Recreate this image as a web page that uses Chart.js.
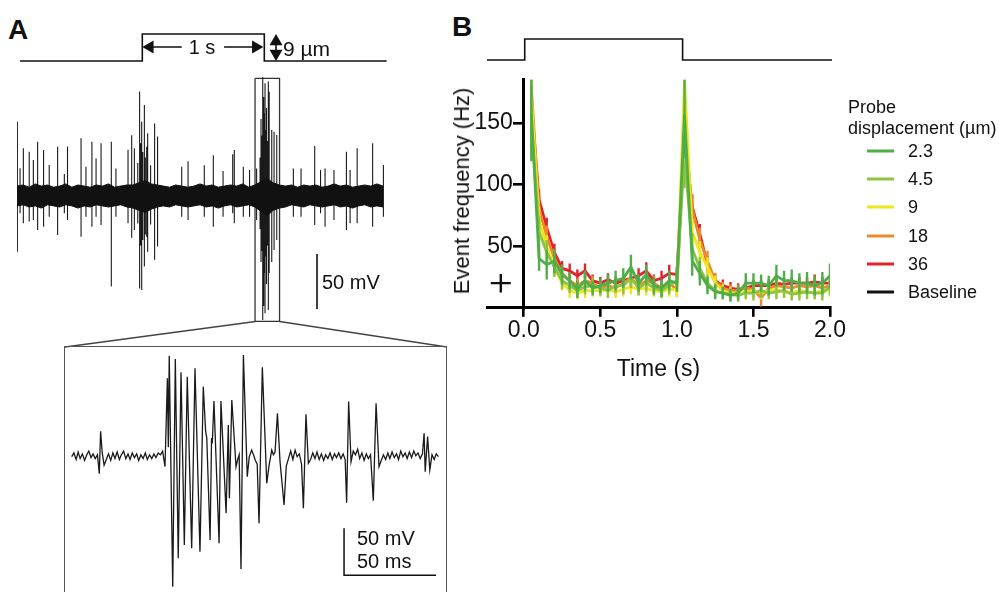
<!DOCTYPE html>
<html>
<head>
<meta charset="utf-8">
<script src="https://cdn.jsdelivr.net/npm/chart.js@4.4.0/dist/chart.umd.min.js"></script>
<style>
  body { margin: 0; width: 999px; height: 592px; background: #fff; position: relative; overflow: hidden;
         font-family: "Liberation Sans", Arial, Helvetica, sans-serif; color: #111; }
  canvas, .txt, svg, .frame { position: absolute; }
  .txt { white-space: nowrap; line-height: 1; transform: translateY(-50%); }
  .panel { font-weight: bold; font-size: 28px; }
  .frame { border: 1.4px solid #555; border-bottom: none; }
  .swatch { position: absolute; width: 27px; height: 3px; transform: translateY(-50%); }
</style>
</head>
<body>

<div class="txt panel" style="left:8px; top:30px;">A</div>
<div class="txt panel" style="left:452px; top:27px;">B</div>

<!-- panel A -->
<canvas id="stimA" width="372" height="55" style="left:17px; top:20px;"></canvas>
<div class="txt" style="left:202px; top:47px; font-size:20px; transform:translate(-50%,-50%);">1 s</div>
<div class="txt" style="left:283px; top:48px; font-size:21px;">9 µm</div>
<canvas id="traceA" width="372" height="250" style="left:17px; top:76px;"></canvas>
<div class="txt" style="left:322px; top:282px; font-size:20px;">50 mV</div>
<svg width="999" height="592" style="left:0; top:0;">
  <line x1="255.5" y1="321.5" x2="65" y2="347" stroke="#444" stroke-width="1.3"/>
  <line x1="279.5" y1="321.5" x2="447" y2="347" stroke="#444" stroke-width="1.3"/>
</svg>
<div class="frame" style="left:64px; top:346px; width:381px; height:260px;"></div>
<canvas id="insetA" width="380" height="244" style="left:66px; top:348px;"></canvas>
<div class="txt" style="left:357px; top:538px; font-size:20px;">50 mV</div>
<div class="txt" style="left:357px; top:561px; font-size:20px;">50 ms</div>

<!-- panel B -->
<canvas id="stimB" width="345" height="40" style="left:487px; top:30px;"></canvas>
<canvas id="chartB" width="420" height="320" style="left:440px; top:63px;"></canvas>
<div class="txt" style="left:462px; top:191px; font-size:22px; transform:translate(-50%,-50%) rotate(-90deg);">Event frequency (Hz)</div>
<div id="legendB"></div>

<script>
// ---------- panel B : event frequency, 50 ms bins ----------
const binTimes = [0.05,0.10,0.15,0.20,0.25,0.30,0.35,0.40,0.45,0.50,0.55,0.60,0.65,0.70,0.75,0.80,0.85,0.90,0.95,1.00,
                  1.05,1.10,1.15,1.20,1.25,1.30,1.35,1.40,1.45,1.50,1.55,1.60,1.65,1.70,1.75,1.80,1.85,1.90,1.95,2.00];

const freq2_3 = [157,40,35,38,27,22,15,22,16,18,20,22,24,33,20,27,18,16,22,20, 157,38,28,18,13,12,10,12,20,20,20,18,26,22,22,20,20,18,20,26];
const sem2_3  = [38,10,12,10,8,7,7,8,6,6,7,8,8,10,7,8,7,7,8,7, 35,12,10,7,6,5,5,6,8,8,7,8,9,8,9,8,9,8,9,10];
const freq4_5 = [150,62,45,33,22,18,14,17,18,16,14,18,18,24,16,20,16,14,18,22, 125,48,32,20,14,12,11,10,12,12,14,12,13,14,11,12,13,12,12,17];
const sem4_5  = [30,12,10,8,7,6,6,6,6,6,6,6,7,8,6,7,6,6,7,7, 28,12,9,7,6,5,5,5,5,6,6,5,6,6,5,6,6,5,6,7];
const freq9   = [170,72,50,33,20,14,12,14,14,14,15,13,15,17,15,16,14,13,15,15, 185,62,45,33,20,14,12,12,13,14,12,14,15,13,12,14,13,12,14,15];
const sem9    = [20,10,9,7,6,6,5,6,5,5,6,5,6,6,5,6,5,5,6,6, 20,10,9,8,6,5,5,5,5,6,5,5,6,5,5,6,5,5,6,6];
const freq18  = [178,80,58,40,28,22,18,22,20,16,18,16,20,24,18,22,20,16,20,15, 145,80,55,38,22,16,14,14,16,15,8,16,18,17,16,18,17,18,16,18];
const sem18   = [12,10,9,8,7,6,6,7,6,6,6,6,7,7,6,7,6,6,7,6, 20,12,10,8,6,5,5,5,6,6,7,6,6,6,6,6,6,6,6,6];
const freq36  = [165,88,65,45,32,30,26,30,22,20,23,20,22,24,26,30,22,24,28,27, 140,82,60,35,22,18,16,15,16,18,18,18,20,19,20,20,20,21,20,20];
const sem36   = [15,8,8,7,6,6,5,6,5,5,5,5,5,6,6,7,5,6,7,6, 18,10,8,7,6,5,5,5,5,5,5,5,5,5,5,5,5,6,5,5];

const dispLabels = ['2.3', '4.5', '9', '18', '36'];
const dispColors = ['#4fae48', '#8fc442', '#efe51c', '#ec8a2c', '#e1232b'];
const seriesFreq = [freq2_3, freq4_5, freq9, freq18, freq36];
const seriesSem  = [sem2_3, sem4_5, sem9, sem18, sem36];

const baselineTime = -0.15, baselineMean = 20, baselineSem = 7.5;

const stimB_t = [-0.24, 0.005, 0.005, 1.03, 1.03, 2.0];
const stimB_v = [0, 0, 1, 1, 0, 0];
const xTicksB = [0, 0.5, 1, 1.5, 2];
const yTicksB = [50, 100, 150];

// ---------- panel A : raw trace ----------
const stimA_t  = [0.025, 1.027, 1.027, 2.027, 2.027, 3.03];
const stimA_um = [0, 0, 9, 9, 0, 0];
const arrowLevel = 4.67;                 // height of the "1 s" arrow (µm axis)
const arrowLeft  = [1.027, 1.35];        // s
const arrowRight = [1.697, 2.019];
const arrowStepT = 2.123;                // position of the 9 µm double arrow

const spikeT = [0.003,0.025,0.052,0.100,0.134,0.169,0.218,0.264,0.333,0.388,0.414,0.525,0.565,0.614,0.648,0.689,0.773,0.811,0.910,0.940,
                0.962,0.990,1.005,1.014,1.022,1.031,1.044,1.052,1.063,1.071,1.095,1.128,1.152,1.350,1.402,1.535,1.609,1.689,1.768,1.781,
                1.855,1.906,1.964,1.992,2.000,2.007,2.014,2.022,2.028,2.033,2.040,2.045,2.052,2.060,2.067,2.088,2.107,2.129,2.265,2.328,
                2.440,2.488,2.525,2.598,2.700,2.730,2.788,2.915,3.003];
const spikeUp = [67.6,25.3,43.4,40.3,32.7,49.4,41.8,28.2,44.8,20.0,45.0,52.5,26.7,49.4,34.0,47.9,49.4,25.1,42.0,55.3,
                 43.3,30.0,95.0,48.0,67.6,40.0,82.7,35.0,44.8,57.0,28.0,66.0,54.0,26.7,31.5,28.0,37.0,22.8,38.0,41.8,
                 26.7,23.6,25.1,35.0,70.0,55.0,108.0,90.0,75.0,102.4,60.0,80.0,50.0,104.0,94.8,60.0,58.5,55.5,25.1,25.1,
                 45.4,23.6,25.1,23.6,40.2,23.6,43.3,47.9,28.2];
const spikeDown = [-50.6,-15.8,-24.8,-23.3,-21.8,-30.9,-27.9,-18.8,-35.5,-15.8,-21.8,-37.0,-18.8,-27.9,-18.8,-26.4,-82.4,-18.8,-24.8,-38.0,
                   -30.9,-25.0,-84.0,-45.0,-85.5,-40.0,-64.2,-35.0,-37.0,-50.6,-26.0,-58.0,-46.0,-18.8,-21.8,-18.8,-27.9,-18.8,-15.8,-24.8,
                   -18.8,-18.8,-21.8,-30.0,-60.0,-50.0,-112.7,-100.0,-70.0,-106.7,-55.0,-80.0,-45.0,-103.6,-70.0,-60.0,-49.0,-40.0,-18.8,-18.8,
                   -26.4,-15.8,-27.9,-21.8,-30.9,-24.8,-24.8,-27.9,-18.8];

const noiseT = [0.00,0.05,0.10,0.15,0.20,0.25,0.30,0.35,0.40,0.45,0.50,0.55,0.60,0.65,0.70,0.75,0.80,0.85,0.90,0.95,
                1.00,1.05,1.10,1.15,1.20,1.25,1.30,1.35,1.40,1.45,1.50,1.55,1.60,1.65,1.70,1.75,1.80,1.85,1.90,1.95,
                2.00,2.05,2.10,2.15,2.20,2.25,2.30,2.35,2.40,2.45,2.50,2.55,2.60,2.65,2.70,2.75,2.80,2.85,2.90,2.95,3.00];
const noiseHi = [9,10,8,11,9,10,8,9,11,8, 10,9,8,10,9,11,8,9,10,10, 12,14,11,10,9,8,10,9,8,9,
                 11,9,10,8,9,10,9,11,8,10, 13,16,12,10,9,10,8,10,9,10, 8,9,11,9,10,8,9,10,9,11, 9];
const noiseLo = [-9,-8,-10,-9,-11,-8,-9,-10,-8,-9, -11,-9,-10,-8,-9,-10,-9,-8,-10,-11, -13,-15,-12,-10,-9,-10,-8,-9,-10,-9,
                 -8,-10,-9,-11,-9,-8,-10,-9,-8,-10, -14,-18,-13,-11,-10,-8,-9,-10,-8,-9, -10,-9,-8,-10,-9,-11,-9,-8,-10,-9, -10];

const zoomWindow = [1.951, 2.152];        // s, shown enlarged below
const zoomBoxTop = 107, zoomBoxBottom = -114;
const scaleBarA = { t: 2.459, v: -52.7, mV: 50 };

// inset: 200 ms of the trace around stimulus offset
const insetMs = [0,1.2,2.4,3.5,4.6,5.8,7,8.2,9.3,10.5,11.6,12.8,14,15,15.7,16.6,17.6,18.8,20,21.2,22.4,23.5,24.7,25.9,27,28.2,29.4,30.6,31.7,32.9,
  34.1,35.3,36.4,37.6,38.8,40,41.1,42.3,43.5,44.7,45.8,47,48.2,49.4,50.7,
  52.0,52.5,53.0,54.9,56.3,57.9,59.4,61.2,62.8,65.2,67.0,69.7,71.5,72.8,73.4,75.2,76.0,76.4,77.3,80.1,81.1,83.9,85.1,85.7,87.0,89.3,90.2,91.0,92.0,93.3,
  95.4,96.5,97.8,98.8,99.8,100.8,101.8,103.6,106.0,107.2,108.7,109.6,110.5,111.8,113.2,115.4,116.6,117.8,119,120.2,121.4,122.5,123.7,124.9,125.9,127.3,128.6,129.8,131,132.2,
  133.3,134.5,135.7,136.9,138,139.2,140.4,141.6,142.8,143.9,145.1,146.3,147.5,148.6,149.4,150.5,151.8,153,154.2,155.4,156.5,157.7,158.9,160.1,161.2,162.4,163.9,165.4,167,168.2,
  169.4,170.6,171.8,172.9,174.1,175.3,176.5,177.6,178.8,180,181.2,182.3,183.5,184.7,185.9,187,188.2,189.4,190.6,191.5,192.1,193.4,194.6,195.8,197,198.1,199.3];
const insetMv = [0,4,-3,5,-2,3,-4,2,6,-1,3,-2,2,-18,27,4,-9,-3,3,-4,4,-2,5,-3,2,6,-2,3,-3,4,
  -1,3,-4,2,-2,4,-3,2,-2,3,-1,4,2,6,-10.6,
  83.4,10,107.4,-138.3,103.9,-108.1,89.8,-93.9,85.1,-97.4,94.0,-101.1,74.5,26.6,20,-88.6,20,14,59.3,-92.1,59.3,-60.2,33.7,-44.3,60.3,-10.6,-3,2,-119.5,108.2,
  -21.3,0,7.1,2,-4,-8,-70.9,95.1,-28.3,-10,7.1,2,5,46.1,-5,-51.4,-10,-2,6,-3,7,0,3,-8,-54.9,45.1,-7,-3,4,-2,
  5,-3,3,-4,2,-2,4,-3,3,-1,4,-2,3,-3,-48.9,58.6,-5.3,6,2,8,-2,4,-4,3,-2,2,-46.8,56.8,-10.6,-4,
  2,-3,4,-2,5,-1,3,-3,6,0,4,-2,5,-1,6,1,4,-2,3,25,-15.9,21.3,-14.1,2,-3,3,0];
const scaleBarInset = { ms: 148, mv: -126, len: 50 };

// ---------- helpers ----------
const FONT = '"Liberation Sans", Arial, Helvetica, sans-serif';
Chart.defaults.font.family = FONT;
Chart.defaults.color = '#111';

function pts(xs, ys) {
    return xs.map((x, i) => ({ x: x, y: ys[i] }));
}

// vertical error bars as broken line segments
function errorBars(xs, means, sems) {
    const out = [];
    xs.forEach((x, i) => {
        out.push({ x: x, y: means[i] - sems[i] }, { x: x, y: means[i] + sems[i] }, { x: x, y: null });
    });
    return out;
}

function spikeSegments(ts, ups, downs) {
    const out = [];
    ts.forEach((t, i) => {
        out.push({ x: t, y: ups[i] }, { x: t, y: downs[i] }, { x: t, y: null });
    });
    return out;
}

function plainOptions(xmin, xmax, ymin, ymax) {
    return {
        responsive: false,
        animation: false,
        events: [],
        layout: { padding: 0, autoPadding: false },
        plugins: { legend: { display: false }, tooltip: { enabled: false } },
        elements: { point: { radius: 0 }, line: { tension: 0 } },
        scales: {
            x: { type: 'linear', min: xmin, max: xmax, display: false },
            y: { type: 'linear', min: ymin, max: ymax, display: false }
        }
    };
}

function lineSet(data, color, width, extra) {
    return Object.assign({ data: data, borderColor: color, borderWidth: width, pointRadius: 0, fill: false, spanGaps: false }, extra || {});
}

// ---------- A: stimulus with arrows ----------
const headR = 7.5;
const headDx = headR / 122;   // 122 px per second on this canvas
const headDy = headR / 3;     // 3 px per µm
new Chart(document.getElementById('stimA'), {
    type: 'line',
    data: {
        datasets: [
            lineSet(pts(stimA_t, stimA_um), '#111', 1.6),
            lineSet([
                { x: arrowLeft[0] + headDx, y: arrowLevel }, { x: arrowLeft[1], y: arrowLevel }, { x: arrowLeft[1], y: null },
                { x: arrowRight[0], y: arrowLevel }, { x: arrowRight[1] - headDx, y: arrowLevel }, { x: arrowRight[1], y: null },
                { x: arrowStepT, y: stimA_um[0] + headDy }, { x: arrowStepT, y: stimA_um[2] - headDy }
            ], '#111', 1.6),
            {
                data: [
                    { x: arrowLeft[0] + headDx, y: arrowLevel },
                    { x: arrowRight[1] - headDx, y: arrowLevel },
                    { x: arrowStepT, y: stimA_um[2] - headDy },
                    { x: arrowStepT, y: stimA_um[0] + headDy }
                ],
                showLine: false,
                pointStyle: 'triangle',
                pointRadius: headR,
                pointRotation: [270, 90, 0, 180],
                pointBackgroundColor: '#111',
                pointBorderWidth: 0
            }
        ]
    },
    options: plainOptions(0, 3.049, -4.67, 13.67)
});

// ---------- A: raw trace ----------
new Chart(document.getElementById('traceA'), {
    type: 'line',
    data: {
        datasets: [
            lineSet(pts(noiseT, noiseHi), '#111', 1),
            lineSet(pts(noiseT, noiseLo), '#111', 1, { fill: '-1', backgroundColor: '#111' }),
            lineSet(spikeSegments(spikeT, spikeUp, spikeDown), '#1a1a1a', 1.1),
            lineSet([
                { x: zoomWindow[0], y: zoomBoxTop }, { x: zoomWindow[1], y: zoomBoxTop },
                { x: zoomWindow[1], y: zoomBoxBottom }, { x: zoomWindow[0], y: zoomBoxBottom },
                { x: zoomWindow[0], y: zoomBoxTop }
            ], '#333', 1.3),
            lineSet([
                { x: scaleBarA.t, y: scaleBarA.v }, { x: scaleBarA.t, y: scaleBarA.v - scaleBarA.mV }
            ], '#111', 1.6)
        ]
    },
    options: plainOptions(0, 3.049, -118.2, 109.1)
});

// ---------- A: inset ----------
new Chart(document.getElementById('insetA'), {
    type: 'line',
    data: {
        datasets: [
            lineSet(pts(insetMs, insetMv), '#1a1a1a', 1.3),
            lineSet([
                { x: scaleBarInset.ms, y: scaleBarInset.mv + scaleBarInset.len },
                { x: scaleBarInset.ms, y: scaleBarInset.mv },
                { x: scaleBarInset.ms + scaleBarInset.len, y: scaleBarInset.mv }
            ], '#111', 1.5)
        ]
    },
    options: plainOptions(-3.1, 203.4, -143.9, 115.6)
});

// ---------- B: stimulus ----------
new Chart(document.getElementById('stimB'), {
    type: 'line',
    data: { datasets: [lineSet(pts(stimB_t, stimB_v), '#111', 1.6)] },
    options: plainOptions(-0.24, 2.0, -0.476, 1.43)
});

// ---------- B: event frequency ----------
const datasetsB = [];
seriesFreq.forEach((freq, i) => {
    const order = i + 1;
    datasetsB.push(lineSet(pts(binTimes, freq), dispColors[i], 2.8, { order: order, label: dispLabels[i] }));
    datasetsB.push(lineSet(errorBars(binTimes, freq, seriesSem[i]), dispColors[i], 2.4, { order: order }));
});
datasetsB.push({
    data: [{ x: baselineTime, y: baselineMean }],
    showLine: false, pointStyle: 'line', pointRadius: 10,
    pointBorderColor: '#111', pointBorderWidth: 2.4, order: 0, label: 'Baseline'
});
datasetsB.push(lineSet(errorBars([baselineTime], [baselineMean], [baselineSem]), '#111', 2.4, { order: 0 }));

new Chart(document.getElementById('chartB'), {
    type: 'line',
    data: { datasets: datasetsB },
    options: {
        responsive: false,
        animation: false,
        events: [],
        layout: { padding: { left: 47, right: 30, top: 0, bottom: 0 }, autoPadding: false },
        plugins: { legend: { display: false }, tooltip: { enabled: false } },
        elements: { point: { radius: 0 }, line: { tension: 0 } },
        scales: {
            x: {
                type: 'linear', min: -0.24, max: 2.0, position: 'bottom',
                afterBuildTicks: s => { s.ticks = xTicksB.map(v => ({ value: v })); },
                ticks: { callback: v => v.toFixed(1), font: { size: 23 }, color: '#111', padding: 0, maxRotation: 0, autoSkip: false },
                grid: { drawOnChartArea: false, drawTicks: true, tickLength: 9, lineWidth: 2.6, color: '#000' },
                border: { color: '#000', width: 3 },
                title: { display: true, text: 'Time (s)', font: { size: 23 }, color: '#111', padding: { top: 11, bottom: 0 } }
            },
            y: {
                type: 'linear', min: 0, max: 185, position: { x: 0 },
                afterBuildTicks: s => { s.ticks = yTicksB.map(v => ({ value: v })); },
                ticks: { callback: v => v + ' \u2009', font: { size: 23 }, color: '#111' },
                grid: { drawOnChartArea: false, drawTicks: true, tickLength: 9, lineWidth: 2.6, color: '#000' },
                border: { color: '#000', width: 3 }
            }
        }
    }
});

// ---------- B: legend ----------
const legendB = document.getElementById('legendB');
const legendNames = dispLabels.concat(['Baseline']);
const legendColors = dispColors.concat(['#111']);
let html = '<div class="txt" style="left:848px; top:107px; font-size:18px;">Probe</div>' +
           '<div class="txt" style="left:848px; top:128px; font-size:18px;">displacement (µm)</div>';
legendNames.forEach((name, i) => {
    const y = 151 + i * 28.2;
    html += '<div class="swatch" style="left:867px; top:' + y + 'px; background:' + legendColors[i] + ';"></div>';
    html += '<div class="txt" style="left:908px; top:' + y + 'px; font-size:18px;">' + name + '</div>';
});
legendB.innerHTML = html;
</script>
</body>
</html>
